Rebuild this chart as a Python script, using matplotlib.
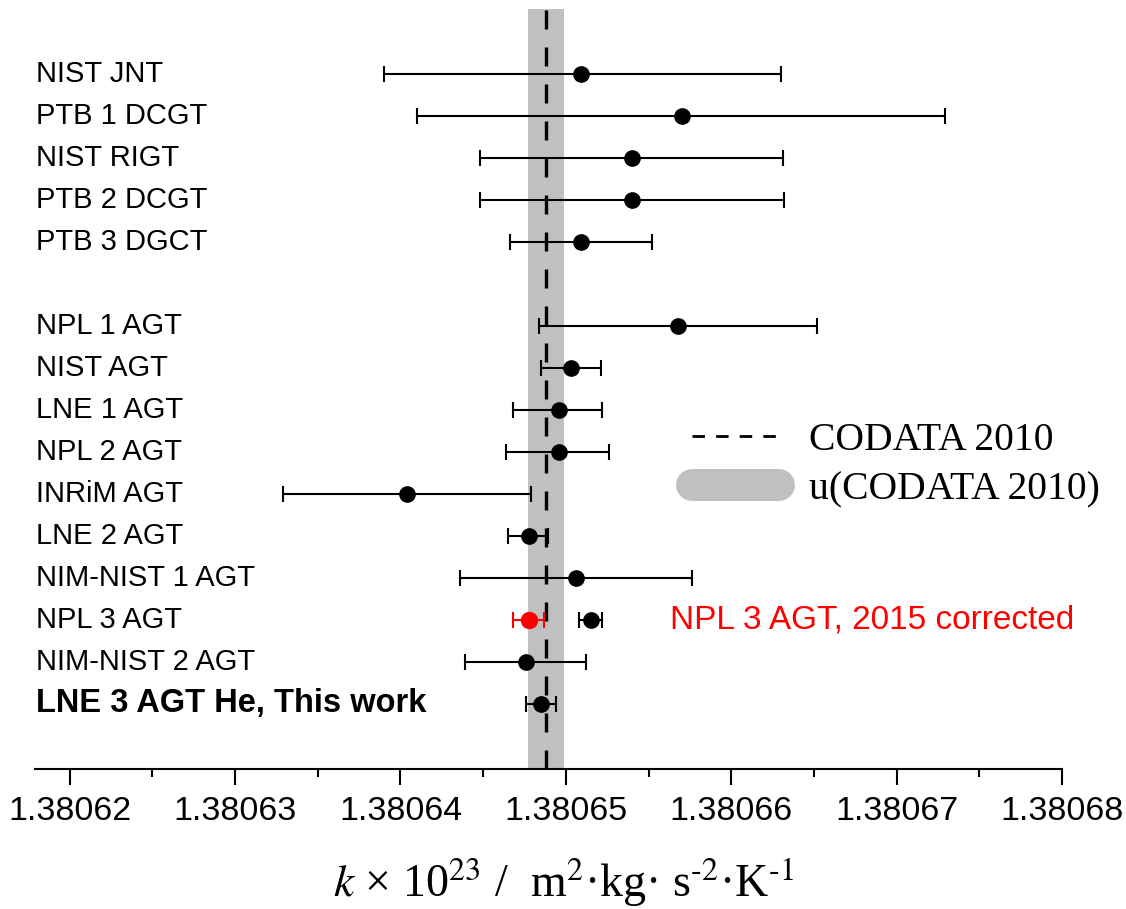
import matplotlib
matplotlib.use("Agg")
import matplotlib.pyplot as plt
import numpy as np
from matplotlib.lines import Line2D
from matplotlib.ticker import MultipleLocator, FormatStrFormatter

plt.rcParams["mathtext.fontset"] = "stix"

# Boltzmann constant determinations, k x 1e23
labels = [
    "NIST JNT", "PTB 1 DCGT", "NIST RIGT", "PTB 2 DCGT", "PTB 3 DGCT",
    "NPL 1 AGT", "NIST AGT", "LNE 1 AGT", "NPL 2 AGT", "INRiM AGT",
    "LNE 2 AGT", "NIM-NIST 1 AGT", "NPL 3 AGT", "NIM-NIST 2 AGT",
    "LNE 3 AGT He, This work",
]
rows = [0, 1, 2, 3, 4, 6, 7, 8, 9, 10, 11, 12, 13, 14, 15]
k_val = np.array([
    1.3806509, 1.3806570, 1.3806540, 1.3806540, 1.3806509,
    1.3806568, 1.3806503, 1.3806496, 1.3806496, 1.3806404,
    1.3806478, 1.3806506, 1.3806515, 1.3806476, 1.3806485,
])
k_lo = np.array([
    1.3806390, 1.3806410, 1.3806448, 1.3806448, 1.3806466,
    1.3806484, 1.3806485, 1.3806468, 1.3806464, 1.3806329,
    1.3806465, 1.3806436, 1.3806508, 1.3806439, 1.3806476,
])
k_hi = np.array([
    1.3806630, 1.3806729, 1.3806631, 1.3806632, 1.3806552,
    1.3806652, 1.3806521, 1.3806522, 1.3806526, 1.3806479,
    1.3806489, 1.3806576, 1.3806522, 1.3806512, 1.3806494,
])

# NPL 3 AGT after the 2015 correction
npl3_corr_row = 13
npl3_corr_val = 1.3806478
npl3_corr_lo = 1.3806468
npl3_corr_hi = 1.3806487

codata_2010 = 1.3806488
u_codata_2010 = 0.0000011

fig = plt.figure(figsize=(11.26, 9.09), dpi=100)
ax = fig.add_axes([35 / 1126, 1 - 769 / 909, (1062 - 35) / 1126, (769 - 9) / 909])

ax.axvspan(codata_2010 - u_codata_2010, codata_2010 + u_codata_2010,
           color="#c0c0c0", lw=0, zorder=0)
ax.axvline(codata_2010, color="black", lw=2.4, linestyle=(0, (5.7, 5.4)), zorder=1)

ax.errorbar(k_val, rows, xerr=[k_val - k_lo, k_hi - k_val], fmt="o",
            color="black", ms=11, elinewidth=1.5, capsize=5.8, capthick=1.5,
            zorder=3)
ax.errorbar([npl3_corr_val], [npl3_corr_row],
            xerr=[[npl3_corr_val - npl3_corr_lo], [npl3_corr_hi - npl3_corr_val]],
            fmt="o", color="red", ms=11.5, elinewidth=1.5, capsize=5.8, capthick=1.5,
            zorder=3)

for name, r in zip(labels, rows):
    if "This work" in name:
        ax.text(0.001, r, name, transform=ax.get_yaxis_transform(), ha="left",
                va="center", fontweight="bold", family="Liberation Sans", fontsize=23.5)
    else:
        ax.text(0.001, r, name, transform=ax.get_yaxis_transform(), ha="left",
                va="center", family="Liberation Sans", fontsize=21)

ax.text(1.3806563, npl3_corr_row, "NPL 3 AGT, 2015 corrected", color="red",
        ha="left", va="center", family="Liberation Sans", fontsize=24)

ax.set_xlim(1.3806179, 1.38068)
ax.set_ylim(16.55, -1.55)

for side in ["left", "right", "top"]:
    ax.spines[side].set_visible(False)
ax.spines["bottom"].set_linewidth(1.5)
ax.set_yticks([])
ax.xaxis.set_major_locator(MultipleLocator(0.00001))
ax.xaxis.set_minor_locator(MultipleLocator(0.000005))
ax.xaxis.set_major_formatter(FormatStrFormatter("%.5f"))
ax.tick_params(axis="x", which="major", direction="out", length=11.5, width=1.5, pad=8)
ax.tick_params(axis="x", which="minor", direction="out", length=6, width=1.5)
for t in ax.get_xticklabels():
    t.set_fontfamily("Liberation Sans")
    t.set_fontsize(24.5)

ax.set_xlabel(r"$k$ × 10$^{23}$ /  m$^{2}$·kg· s$^{\text{-2}}$·K$^{\text{-1}}$",
              family="Liberation Serif", fontsize=33)
ax.xaxis.set_label_coords(0.515, -0.115)

handles = [
    Line2D([], [], color="black", lw=2, linestyle=(0, (4.5, 4))),
    Line2D([], [], color="#c0c0c0", lw=23, solid_capstyle="round"),
]
ax.legend(handles, ["CODATA 2010", "u(CODATA 2010)"], loc="center left",
          bbox_to_anchor=(692 / 1126, 1 - 465 / 909), bbox_transform=fig.transFigure,
          frameon=False, borderpad=0, borderaxespad=0, handlelength=2.2,
          handletextpad=0.75, labelspacing=0.3,
          prop=dict(family="Liberation Serif", size=28.5))

fig.savefig("out.png", dpi=100)
